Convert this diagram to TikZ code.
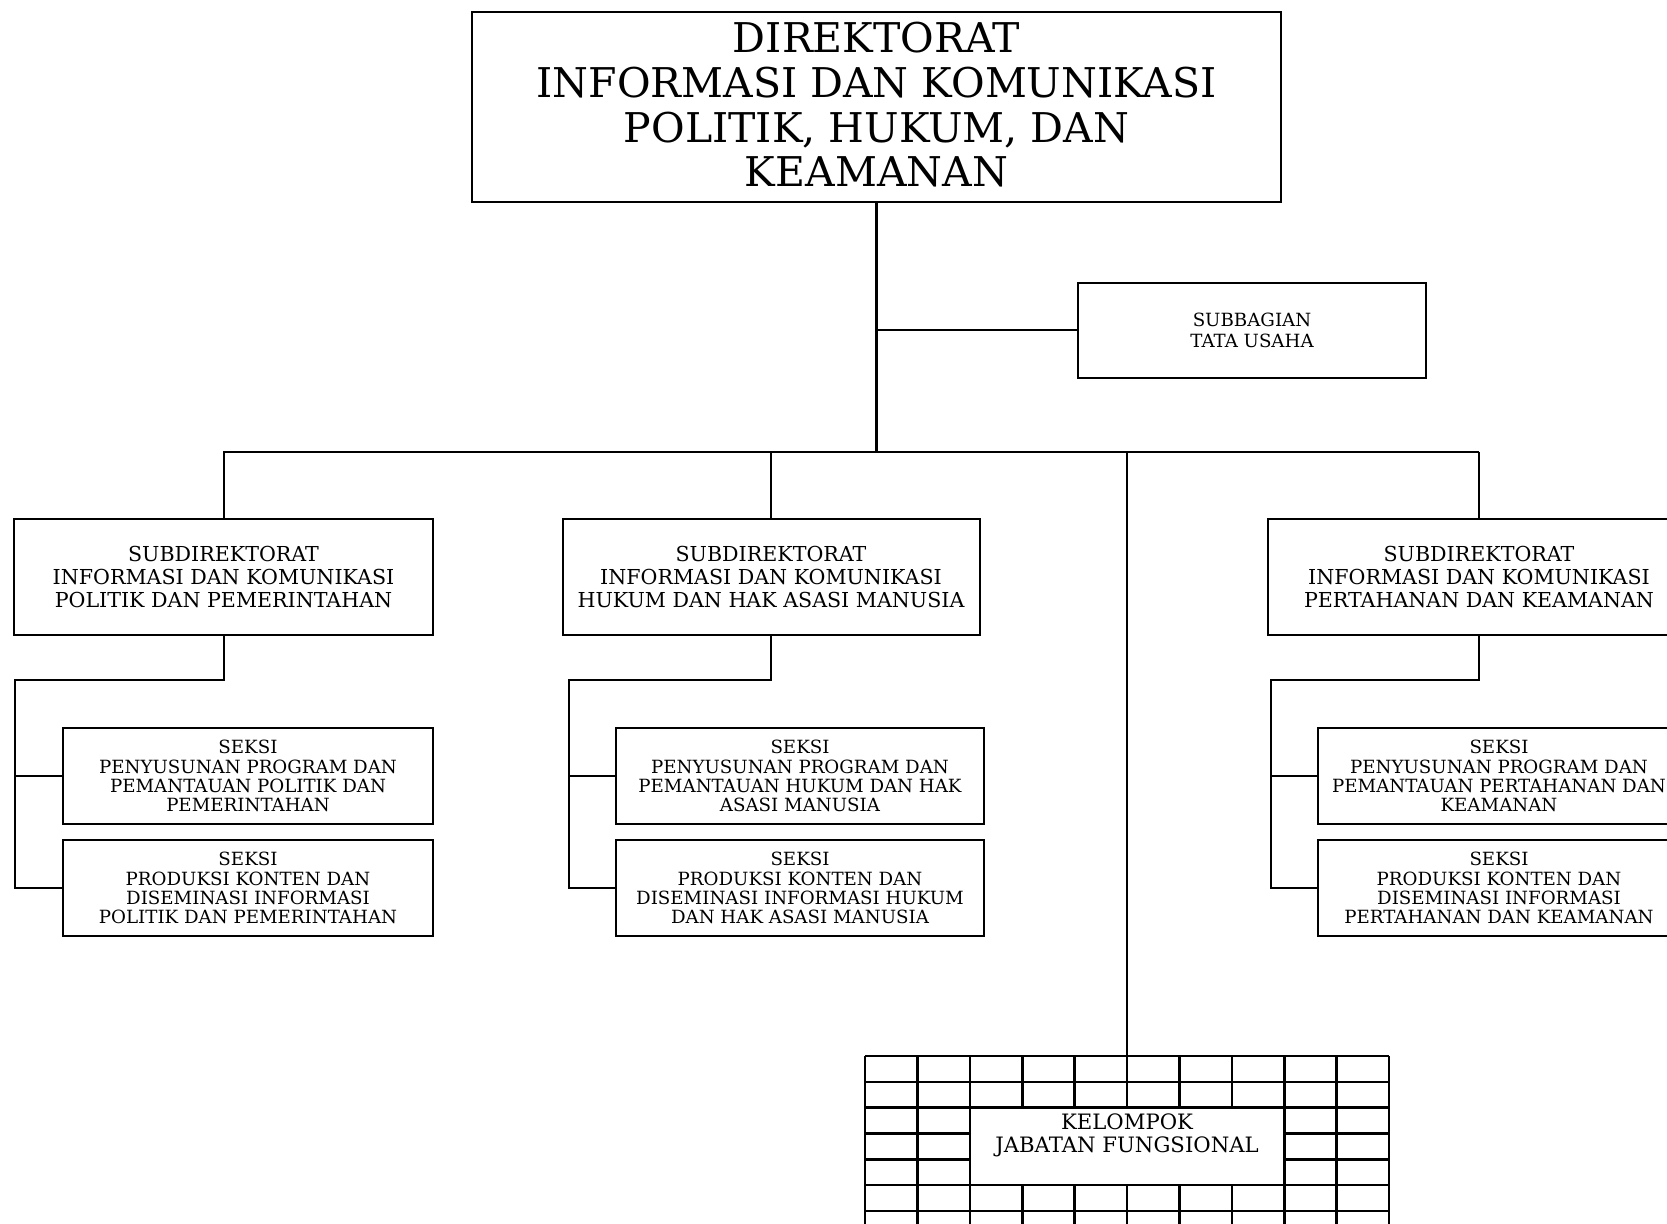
\documentclass[tikz,border=0pt]{standalone}
\usepackage{fontspec}
\setmainfont{DejaVu Serif}
\tikzset{
  box/.style={draw, line width=1pt, align=center, inner sep=0pt, fill=white},
  conn/.style={line width=1pt},
  trunk/.style={line width=1.6pt},
  gridline/.style={line width=1.3pt},
  fTop/.style={font=\fontsize{20.5}{22.4}\selectfont},
  fSub/.style={font=\fontsize{10.3}{11.4}\selectfont},
  fSek/.style={font=\fontsize{9.1}{9.6}\selectfont},
  fTu/.style={font=\fontsize{9.1}{10.5}\selectfont},
  fKjf/.style={font=\fontsize{10.6}{11.2}\selectfont},
  subdir/.style={box, fSub, minimum height=58pt},
  seksi/.style={box, fSek, minimum height=48pt},
}
\newcommand{\liftup}[2]{\raisebox{#1}[\height][\depth]{\begin{tabular}{@{}c@{}}#2\end{tabular}}}
\begin{document}
\begin{tikzpicture}[x=0.5pt,y=-0.5pt]
\useasboundingbox (0,0) rectangle (1667,1224);
\clip (0,0) rectangle (1667,1224);
\fill[white] (0,0) rectangle (1667,1224);

% top
\node[box, fTop, minimum width=404.5pt, minimum height=95pt] (dir) at (876.5,107)
  {\liftup{-1.9pt}{DIREKTORAT\\INFORMASI DAN KOMUNIKASI\\POLITIK, HUKUM, DAN\\KEAMANAN}};

\node[box, fTu, minimum width=174pt, minimum height=47.5pt] (tu) at (1252,330.5)
  {SUBBAGIAN\\TATA USAHA};

% subdirektorat
\node[subdir, minimum width=209.5pt] (sdL) at (223.5,577)
  {SUBDIREKTORAT\\INFORMASI DAN KOMUNIKASI\\POLITIK DAN PEMERINTAHAN};
\node[subdir, minimum width=208.5pt] (sdM) at (771,577)
  {SUBDIREKTORAT\\INFORMASI DAN KOMUNIKASI\\HUKUM DAN HAK ASASI MANUSIA};
\node[subdir, minimum width=211pt] (sdR) at (1479,577)
  {SUBDIREKTORAT\\INFORMASI DAN KOMUNIKASI\\PERTAHANAN DAN KEAMANAN};

% seksi
\node[seksi, minimum width=185pt] (sL1) at (248,776)
  {SEKSI\\PENYUSUNAN PROGRAM DAN\\PEMANTAUAN POLITIK DAN\\PEMERINTAHAN};
\node[seksi, minimum width=185pt] (sL2) at (248,888)
  {SEKSI\\PRODUKSI KONTEN DAN\\DISEMINASI INFORMASI\\POLITIK DAN PEMERINTAHAN};
\node[seksi, minimum width=184pt] (sM1) at (800,776)
  {SEKSI\\PENYUSUNAN PROGRAM DAN\\PEMANTAUAN HUKUM DAN HAK\\ASASI MANUSIA};
\node[seksi, minimum width=184pt] (sM2) at (800,888)
  {SEKSI\\PRODUKSI KONTEN DAN\\DISEMINASI INFORMASI HUKUM\\DAN HAK ASASI MANUSIA};
\node[seksi, minimum width=181pt] (sR1) at (1499,776)
  {SEKSI\\PENYUSUNAN PROGRAM DAN\\PEMANTAUAN PERTAHANAN DAN\\KEAMANAN};
\node[seksi, minimum width=181pt] (sR2) at (1499,888)
  {SEKSI\\PRODUKSI KONTEN DAN\\DISEMINASI INFORMASI\\PERTAHANAN DAN KEAMANAN};

% grid of kelompok jabatan fungsional
\foreach \i in {0,...,10} \draw[gridline] ({865+52.4*\i},1056) -- ({865+52.4*\i},1260);
\foreach \j in {0,...,7} \draw[gridline] (865,{1056+25.8*\j}) -- (1389,{1056+25.8*\j});
\node[box, fKjf, line width=1.3pt, minimum width=157.2pt, minimum height=38.7pt] (kjf) at (1127,1146.3)
  {\liftup{5pt}{KELOMPOK\\JABATAN FUNGSIONAL}};
\coordinate (gridtop) at (1127,1056);

% coordinates
\coordinate (busL) at (223,452);
\coordinate (busR) at (1479,452);
\coordinate (lL) at (15,680);
\coordinate (lM) at (569,680);
\coordinate (lR) at (1271,680);

% connectors
\draw[trunk] (dir.south) -- (dir.south |- busL);
\draw[conn] (dir.south |- tu.west) -- (tu.west);
\draw[conn] (busL) -- (busR);
\draw[conn] (sdL.north |- busL) -- (sdL.north);
\draw[conn] (sdM.north |- busL) -- (sdM.north);
\draw[conn] (sdR.north |- busL) -- (sdR.north);
\draw[conn] (gridtop |- busL) -- (gridtop);

\draw[conn] (sdL.south) |- (lL) -- (lL |- sL2.west) -- (sL2.west);
\draw[conn] (lL |- sL1.west) -- (sL1.west);
\draw[conn] (sdM.south) |- (lM) -- (lM |- sM2.west) -- (sM2.west);
\draw[conn] (lM |- sM1.west) -- (sM1.west);
\draw[conn] (sdR.south) |- (lR) -- (lR |- sR2.west) -- (sR2.west);
\draw[conn] (lR |- sR1.west) -- (sR1.west);
\end{tikzpicture}
\end{document}
